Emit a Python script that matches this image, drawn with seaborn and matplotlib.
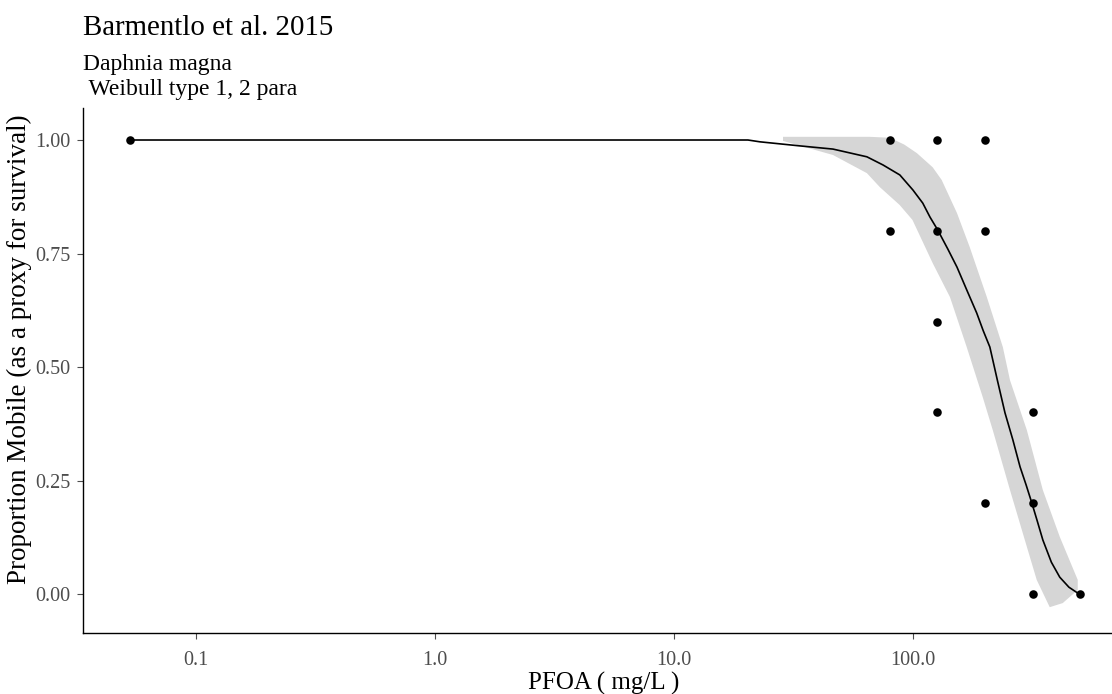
import numpy as np
import matplotlib
matplotlib.use("Agg")
import matplotlib.pyplot as plt
import seaborn as sns

# observed proportions (conc in mg/L)
dose = [0.053, 80, 80, 126, 126, 126, 126, 200, 200, 200, 317, 317, 317, 502]
mobile = [1.0, 1.0, 0.8, 1.0, 0.8, 0.6, 0.4, 1.0, 0.8, 0.2, 0.4, 0.2, 0.0, 0.0]

# fitted curve
curve_x = [0.053, 20.4, 22.9, 33.7, 46.3, 64.2, 75, 88.2, 100, 110, 118, 127,
           140, 153, 168, 185, 197, 210, 226, 243, 262, 281, 298, 315, 332,
           350, 380, 412, 450, 490]
curve_y = [1.0, 1.0, 0.996, 0.987, 0.980, 0.963, 0.945, 0.923, 0.89, 0.861,
           0.83, 0.802, 0.76, 0.720, 0.67, 0.619, 0.58, 0.544, 0.47, 0.399,
           0.34, 0.280, 0.24, 0.200, 0.16, 0.119, 0.07, 0.037, 0.015, 0.002]

# confidence band
upper_x = [28.6, 66, 80, 92, 104, 121, 132, 153, 173, 204, 238, 255, 300, 350, 412, 490]
upper_y = [1.007, 1.007, 1.005, 0.99, 0.971, 0.94, 0.912, 0.839, 0.764, 0.654,
           0.544, 0.471, 0.361, 0.229, 0.126, 0.031]
lower_x = [28.6, 46.3, 64.2, 72.8, 88, 99.6, 121, 143, 168, 196, 216, 255, 300,
           330, 374, 424, 490]
lower_y = [0.998, 0.967, 0.927, 0.896, 0.857, 0.824, 0.729, 0.654, 0.544, 0.434,
           0.361, 0.229, 0.104, 0.031, -0.029, -0.020, 0.009]

x_ticks = [0.1, 1, 10, 100]
x_labels = ["0.1", "1.0", "10.0", "100.0"]
y_ticks = [0, 0.25, 0.5, 0.75, 1.0]
y_labels = ["0.00", "0.25", "0.50", "0.75", "1.00"]

sns.set_theme(style="ticks")
plt.rcParams['font.family'] = ['Liberation Serif', 'DejaVu Serif']

fig = plt.figure(figsize=(11.12, 6.94), dpi=100)
ax = fig.add_axes([83 / 1112, 1 - 633 / 694, (1125 - 83) / 1112, (633 - 108) / 694])

band_x = np.concatenate([upper_x, lower_x[::-1]])
band_y = np.concatenate([upper_y, lower_y[::-1]])
ax.fill(band_x, band_y, color="#D6D6D6", lw=0, zorder=1)

sns.lineplot(x=curve_x, y=curve_y, color="black", lw=1.2, ax=ax,
             estimator=None, sort=False, zorder=2)
sns.scatterplot(x=dose, y=mobile, color="black", s=38, edgecolor="black",
                linewidth=0, ax=ax, zorder=3)

ax.set_xscale("log")
ax.set_xlim(10 ** -1.474, 10 ** 2.888)
ax.set_ylim(-0.0859, 1.0705)
ax.set_xticks(x_ticks)
ax.set_xticklabels(x_labels)
ax.xaxis.set_minor_locator(matplotlib.ticker.NullLocator())
ax.set_yticks(y_ticks)
ax.set_yticklabels(y_labels)

ax.tick_params(axis="both", labelsize=14.5, colors="#4D4D4D", length=4, width=0.8,
               labelcolor="#4D4D4D")
ax.tick_params(axis="x", pad=9)
ax.tick_params(axis="y", pad=5)
for s in ["left", "bottom"]:
    ax.spines[s].set_color("black")
    ax.spines[s].set_linewidth(1.0)
sns.despine(ax=ax)

ax.set_xlabel("PFOA ( mg/L )", fontsize=18, color="black", labelpad=1)
ax.set_ylabel("Proportion Mobile (as a proxy for survival)", fontsize=19.5,
              color="black")
ax.yaxis.set_label_coords(-(83 - 32) / (1125 - 83), (633 - 349) / (633 - 108))

fig.text(83 / 1112, 1 - 35 / 694, "Barmentlo et al. 2015", fontsize=20.8,
         ha="left", va="baseline", color="black")
fig.text(83 / 1112, 1 - 70 / 694, "Daphnia magna", fontsize=17,
         ha="left", va="baseline", color="black")
fig.text(83 / 1112, 1 - 95 / 694, " Weibull type 1, 2 para", fontsize=17,
         ha="left", va="baseline", color="black")

fig.savefig("out.png", dpi=100)
